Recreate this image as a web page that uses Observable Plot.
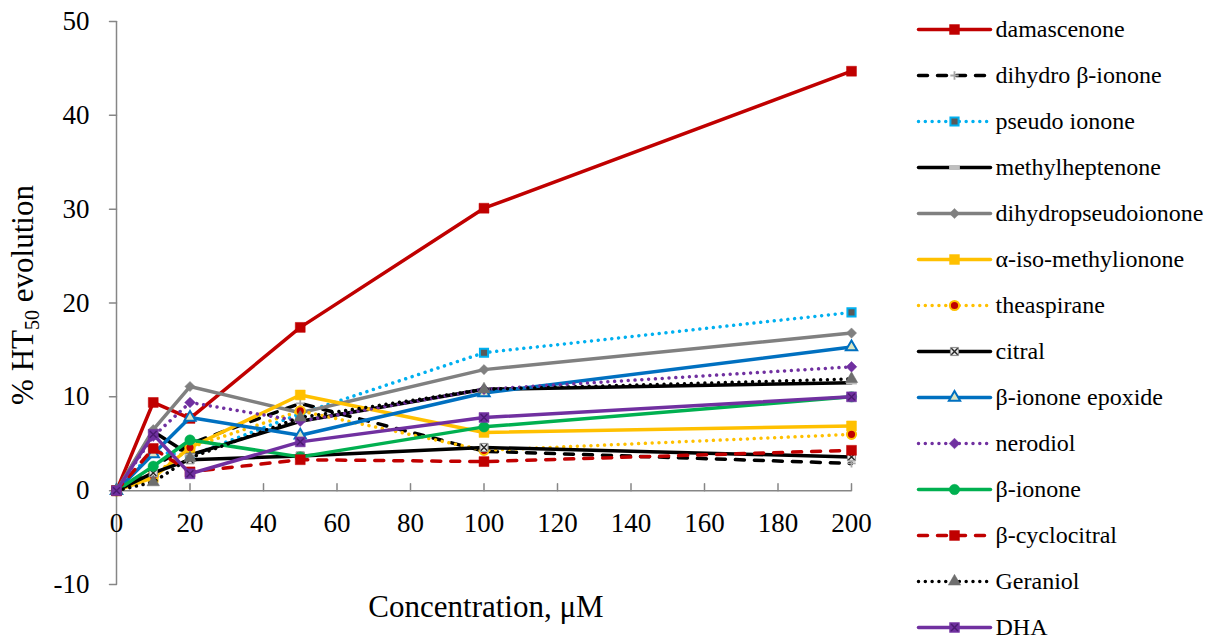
<!DOCTYPE html>
<html>
<head>
<meta charset="utf-8">
<script src="https://cdn.jsdelivr.net/npm/d3@7"></script>
<script src="https://cdn.jsdelivr.net/npm/@observablehq/plot@0.6"></script>
<style>
  body { margin: 0; background: #ffffff; }
  #chart { position: relative; width: 1216px; height: 642px; background: #ffffff; }
  #chart svg { position: absolute; top: 0; }
</style>
</head>
<body>
<div id="chart"></div>
<script>
// ---- data ----
const concentrations = [0, 10, 20, 50, 100, 200];
const damascenone         = [0, 9.4, 7.7, 17.4, 30.1, 44.7];
const dihydroBetaIonone   = [0, 2.5, 5.0, 9.3, 4.2, 2.9];
const pseudoIonone        = [0, 4.2, 3.7, 8.2, 14.7, 19.0];
const methylheptenone     = [0, 6.3, 3.8, 7.4, 10.8, 11.5];
const dihydropseudoionone = [0, 6.5, 11.1, 8.3, 12.9, 16.8];
const alphaIsoMethylionone= [0, 1.4, 4.6, 10.2, 6.2, 6.9];
const theaspirane         = [0, 1.6, 4.6, 8.5, 4.3, 6.0];
const citral              = [0, 1.9, 3.3, 3.7, 4.6, 3.6];
const betaIononeEpoxide   = [0, 3.9, 7.8, 5.9, 10.4, 15.3];
const nerodiol            = [0, 5.8, 9.4, 7.4, 10.8, 13.2];
const betaIonone          = [0, 2.6, 5.4, 3.6, 6.8, 10.0];
const betaCyclocitral     = [0, 4.5, 2.0, 3.3, 3.1, 4.3];
const geraniol            = [0, 0.9, 3.5, 7.8, 10.8, 11.9];
const dha                 = [0, 6.0, 1.8, 5.2, 7.8, 10.0];

const xTicks = [0, 20, 40, 60, 80, 100, 120, 140, 160, 180, 200];
const yTicks = [-10, 0, 10, 20, 30, 40, 50];
const xLabel = "Concentration, μM";

// ---- styles ----
const FONT = "'Liberation Serif', 'Times New Roman', serif";
const AXIS = "#868686";
const LW = 3.5;
const SOLID = null, DOTTED = "0.01 6.8", DASHED = "9 10";
const dashSymbol = { draw(ctx, size) { const s = Math.sqrt(size / Math.PI); ctx.rect(-s, -s * 0.32, 2 * s, 0.64 * s); } };

const series = [
  { name: "damascenone", values: damascenone, color: "#C00000", dash: SOLID,
    markers: [{ symbol: "square", r: 5.6, fill: "#C00000", stroke: "#C00000", sw: 0.5 }] },
  { name: "dihydro β-ionone", values: dihydroBetaIonone, color: "#000000", dash: DASHED,
    markers: [{ symbol: "plus", r: 2.8, fill: "none", stroke: "#A6A6A6", sw: 1.8 }] },
  { name: "pseudo ionone", values: pseudoIonone, color: "#00B0F0", dash: DOTTED,
    markers: [{ symbol: "square", r: 4.6, fill: "#595959", stroke: "#00B0F0", sw: 2 }] },
  { name: "methylheptenone", values: methylheptenone, color: "#000000", dash: SOLID,
    markers: [{ symbol: dashSymbol, r: 5.4, fill: "#BFBFBF", stroke: "none", sw: 0 }] },
  { name: "dihydropseudoionone", values: dihydropseudoionone, color: "#808080", dash: SOLID,
    markers: [{ symbol: "diamond2", r: 4.6, fill: "#808080", stroke: "#808080", sw: 0.5 }] },
  { name: "α-iso-methylionone", values: alphaIsoMethylionone, color: "#FFC000", dash: SOLID,
    markers: [{ symbol: "square", r: 5.6, fill: "#FFC000", stroke: "#FFC000", sw: 0.5 }] },
  { name: "theaspirane", values: theaspirane, color: "#FFC000", dash: DOTTED,
    markers: [{ symbol: "circle", r: 4.6, fill: "#C00000", stroke: "#FFC000", sw: 2 }] },
  { name: "citral", values: citral, color: "#000000", dash: SOLID,
    markers: [{ symbol: "square", r: 4.6, fill: "#E6E6E6", stroke: "#8C8C8C", sw: 1 },
              { symbol: "times", r: 3.0, fill: "none", stroke: "#262626", sw: 1.4 }] },
  { name: "β-ionone epoxide", values: betaIononeEpoxide, color: "#0070C0", dash: SOLID,
    markers: [{ symbol: "triangle", r: 4.2, fill: "#DCE6C4", stroke: "#0070C0", sw: 2 }] },
  { name: "nerodiol", values: nerodiol, color: "#7030A0", dash: DOTTED,
    markers: [{ symbol: "diamond2", r: 4.8, fill: "#7030A0", stroke: "#7030A0", sw: 0.5 }] },
  { name: "β-ionone", values: betaIonone, color: "#00B050", dash: SOLID,
    markers: [{ symbol: "circle", r: 5.2, fill: "#00B050", stroke: "#00B050", sw: 0.5 }] },
  { name: "β-cyclocitral", values: betaCyclocitral, color: "#C00000", dash: DASHED,
    markers: [{ symbol: "square", r: 5.6, fill: "#C00000", stroke: "#C00000", sw: 0.5 }] },
  { name: "Geraniol", values: geraniol, color: "#000000", dash: DOTTED,
    markers: [{ symbol: "triangle", r: 4.6, fill: "#6E6E6E", stroke: "#6E6E6E", sw: 0.5 }] },
  { name: "DHA", values: dha, color: "#7030A0", dash: SOLID,
    markers: [{ symbol: "square", r: 5.6, fill: "#7030A0", stroke: "#7030A0", sw: 0.5 },
              { symbol: "times", r: 3.2, fill: "none", stroke: "#4A1A70", sw: 1.4 }] }
];

const tickShape = { draw(ctx, l) { ctx.moveTo(0, 0); ctx.lineTo(0, -l); } };

function lineStyle(s) {
  return { stroke: s.color, strokeWidth: LW, strokeDasharray: s.dash,
           strokeLinecap: "round", strokeLinejoin: "round" };
}
function markerMarks(data, s, xAcc, yAcc) {
  return s.markers.map(m => Plot.dot(data, {
    x: xAcc, y: yAcc, symbol: m.symbol, r: m.r, fill: m.fill,
    stroke: m.stroke, strokeWidth: m.sw
  }));
}

// ---- main chart ----
const seriesMarks = [];
for (const s of series) {
  const rows = concentrations.map((c, i) => ({ c, v: s.values[i] }));
  seriesMarks.push(Plot.line(rows, { x: "c", y: "v", ...lineStyle(s) }));
  seriesMarks.push(...markerMarks(rows, s, "c", "v"));
}

const main = Plot.plot({
  width: 1216, height: 642,
  marginLeft: 116, marginRight: 365, marginTop: 21, marginBottom: 58,
  x: { domain: [0, 200], axis: null },
  y: { domain: [-10, 50], axis: null },
  style: { background: "transparent", overflow: "visible" },
  marks: [
    Plot.ruleX([0], { y1: -10, y2: 50, stroke: AXIS, strokeWidth: 1.5 }),
    Plot.vector(yTicks, { x: 0, y: d => d, length: 7, rotate: -90, anchor: "start",
                          shape: tickShape, stroke: AXIS, strokeWidth: 1.5 }),
    Plot.text(yTicks, { x: 0, y: d => d, text: d => String(d), dx: -27, textAnchor: "end",
                        fontSize: 27, fill: "#000", lineAnchor: "middle" }),
    Plot.ruleY([0], { x1: 0, x2: 200, stroke: AXIS, strokeWidth: 1.5 }),
    Plot.vector(xTicks, { x: d => d, y: 0, length: 7, rotate: 0, anchor: "start",
                          shape: tickShape, stroke: AXIS, strokeWidth: 1.5 }),
    Plot.text(xTicks, { x: d => d, y: 0, text: d => String(d), dy: 33,
                        fontSize: 27, fill: "#000", lineAnchor: "middle" }),
    ...seriesMarks
  ]
});
main.style.left = "0px";
document.getElementById("chart").appendChild(main);

// axis titles as real text
const svg = d3.select(main);
svg.append("text")
  .attr("x", 486).attr("y", 617)
  .attr("text-anchor", "middle")
  .attr("font-size", 31).attr("fill", "#000")
  .text(xLabel);
const yt = svg.append("text")
  .attr("transform", "translate(33,295) rotate(-90)")
  .attr("text-anchor", "middle")
  .attr("font-size", 31).attr("fill", "#000");
yt.append("tspan").text("% HT");
yt.append("tspan").attr("font-size", 20).attr("dy", 6).text("50");
yt.append("tspan").attr("dy", -6).text(" evolution");

// ---- legend ----
const names = series.map(s => s.name);
const legendMarks = [];
for (const s of series) {
  const seg = [0, 1].map(t => ({ t, name: s.name }));
  legendMarks.push(Plot.line(seg, { x: "t", y: "name", ...lineStyle(s) }));
  legendMarks.push(...markerMarks([{ t: 0.5, name: s.name }], s, "t", "name"));
}
legendMarks.push(Plot.text(names, { x: () => 1, y: d => d, text: d => d, dx: 5,
  textAnchor: "start", fontSize: 24, fill: "#000", lineAnchor: "middle" }));

const legend = Plot.plot({
  width: 316, height: 642,
  marginLeft: 0, marginRight: 0, marginTop: 0, marginBottom: 0,
  x: { domain: [0, 1], range: [18, 90], axis: null },
  y: { type: "point", domain: names, range: [28, 628], padding: 0, axis: null },
  style: { background: "transparent", overflow: "visible" },
  marks: legendMarks
});
legend.style.left = "900px";
document.getElementById("chart").appendChild(legend);

// force the serif face on every text node
for (const el of [main, legend]) {
  el.style.fontFamily = FONT;
  d3.select(el).selectAll("g, text, tspan").style("font-family", FONT);
}
</script>
</body>
</html>
